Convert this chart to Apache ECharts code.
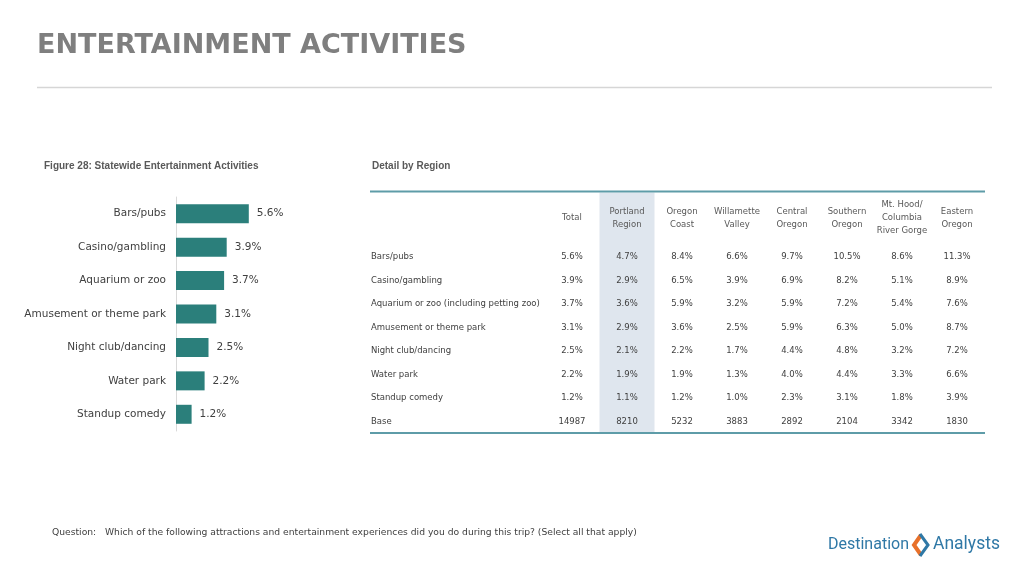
<!DOCTYPE html>
<html>
<head>
<meta charset="utf-8">
<script src="https://cdn.jsdelivr.net/npm/echarts@6/dist/echarts.min.js"></script>
<style>
html,body{margin:0;padding:0;background:#fff;}
#chart{width:1024px;height:576px;}
</style>
</head>
<body>
<div id="chart"></div>
<script>
// ---- Data ----
const titleText = 'ENTERTAINMENT ACTIVITIES';
const figureTitle = 'Figure 28: Statewide Entertainment Activities';
const detailTitle = 'Detail by Region';
const questionLabel = 'Question:';
const questionText = 'Which of the following attractions and entertainment experiences did you do during this trip? (Select all that apply)';

const barCategories = ['Bars/pubs', 'Casino/gambling', 'Aquarium or zoo', 'Amusement or theme park', 'Night club/dancing', 'Water park', 'Standup comedy'];
const barValues = [5.6, 3.9, 3.7, 3.1, 2.5, 2.2, 1.2];

const tableRows = ['Bars/pubs', 'Casino/gambling', 'Aquarium or zoo (including petting zoo)', 'Amusement or theme park', 'Night club/dancing', 'Water park', 'Standup comedy', 'Base'];
const regionHeaders = ['Total', 'Portland\nRegion', 'Oregon\nCoast', 'Willamette\nValley', 'Central\nOregon', 'Southern\nOregon', 'Mt. Hood/\nColumbia\nRiver Gorge', 'Eastern\nOregon'];

const totalCol      = [5.6, 3.9, 3.7, 3.1, 2.5, 2.2, 1.2];
const portlandCol   = [4.7, 2.9, 3.6, 2.9, 2.1, 1.9, 1.1];
const oregonCoastCol= [8.4, 6.5, 5.9, 3.6, 2.2, 1.9, 1.2];
const willametteCol = [6.6, 3.9, 3.2, 2.5, 1.7, 1.3, 1.0];
const centralCol    = [9.7, 6.9, 5.9, 5.9, 4.4, 4.0, 2.3];
const southernCol   = [10.5, 8.2, 7.2, 6.3, 4.8, 4.4, 3.1];
const mtHoodCol     = [8.6, 5.1, 5.4, 5.0, 3.2, 3.3, 1.8];
const easternCol    = [11.3, 8.9, 7.6, 8.7, 7.2, 6.6, 3.9];
const baseCounts    = [14987, 8210, 5232, 3883, 2892, 2104, 3342, 1830];

const highlightColumn = 1; // Portland Region

// ---- Build table cells ----
const columns = [totalCol, portlandCol, oregonCoastCol, willametteCol, centralCol, southernCol, mtHoodCol, easternCol];
const cellData = [];
const cellText = [];
columns.forEach((col, c) => {
  col.forEach((v, r) => { cellData.push([c, r]); cellText.push(v.toFixed(1) + '%'); });
  cellData.push([c, col.length]); cellText.push(String(baseCounts[c]));
});

const FONT = 'DejaVu Sans';
const TXT = '#404040';

const chart = echarts.init(document.getElementById('chart'), null, {renderer: 'canvas'});
chart.setOption({
  backgroundColor: '#ffffff',
  animation: false,
  graphic: [
    {type: 'text', left: 37, top: 32, style: {text: titleText, fill: '#7f7f7f', font: 'bold 27px "DejaVu Sans"'}},
    {type: 'line', shape: {x1: 37, y1: 87.5, x2: 992, y2: 87.5}, style: {stroke: '#d6d6d6', lineWidth: 1.5}},
    {type: 'text', x: 44, y: 166, style: {text: figureTitle, fill: '#595959', font: 'bold 10px "Liberation Sans"', verticalAlign: 'middle'}},
    {type: 'text', x: 372, y: 166, style: {text: detailTitle, fill: '#595959', font: 'bold 10px "Liberation Sans"', verticalAlign: 'middle'}},
    {type: 'line', shape: {x1: 370, y1: 191.5, x2: 985, y2: 191.5}, style: {stroke: '#5e9ca8', lineWidth: 2}, z: 5},
    {type: 'line', shape: {x1: 370, y1: 433, x2: 985, y2: 433}, style: {stroke: '#5e9ca8', lineWidth: 2}, z: 5},
    {type: 'text', x: 52, y: 533, style: {text: questionLabel, fill: TXT, font: '9.2px "DejaVu Sans"', verticalAlign: 'middle'}},
    {type: 'text', x: 105, y: 533, style: {text: questionText, fill: TXT, font: '9.2px "DejaVu Sans"', verticalAlign: 'middle'}},
    {type: 'text', x: 828, y: 545, style: {text: 'Destination', fill: '#2f78a6', font: '16px Roboto', verticalAlign: 'middle'}},
    {type: 'text', x: 933, y: 545, style: {text: 'Analysts', fill: '#2f78a6', font: '17.5px Roboto', verticalAlign: 'middle'}},
    {type: 'polyline', shape: {points: [[921, 535], [914, 545], [921, 555]]}, style: {stroke: '#e8702a', lineWidth: 4, fill: null}},
    {type: 'polyline', shape: {points: [[920, 534], [928, 545], [920, 556]]}, style: {stroke: '#2f78a6', lineWidth: 3, fill: null}}
  ],
  grid: [
    {left: 176, top: 197, width: 130, height: 234},
    {left: 544.5, top: 245, width: 440, height: 188.5}
  ],
  xAxis: [
    {gridIndex: 0, type: 'value', min: 0, max: 10, show: false},
    {gridIndex: 1, type: 'category', position: 'top', data: regionHeaders, z: 6,
     axisLine: {show: false}, axisTick: {show: false}, splitLine: {show: false},
     axisLabel: {interval: 0, verticalAlign: 'middle', margin: 27, lineHeight: 13, fontSize: 8.5, fontFamily: FONT, color: '#595959'}}
  ],
  yAxis: [
    {gridIndex: 0, type: 'category', inverse: true, data: barCategories,
     axisLine: {show: true, lineStyle: {color: '#d9d9d9', width: 1}}, axisTick: {show: false},
     axisLabel: {margin: 10, fontSize: 10.5, fontFamily: FONT, color: TXT}},
    {gridIndex: 1, type: 'category', inverse: true, data: tableRows,
     axisLine: {show: false}, axisTick: {show: false},
     axisLabel: {align: 'left', margin: 173.5, fontSize: 8.5, fontFamily: FONT, color: TXT}}
  ],
  series: [
    {type: 'bar', xAxisIndex: 0, yAxisIndex: 0, data: barValues, barWidth: 19,
     itemStyle: {color: '#2b7f7b'},
     label: {show: true, position: 'right', distance: 8, fontSize: 10.5, fontFamily: FONT, color: TXT,
             formatter: p => p.value.toFixed(1) + '%'}},
    {type: 'custom', xAxisIndex: 1, yAxisIndex: 1, z: 1, data: [[highlightColumn, 0]],
     renderItem: (params, api) => {
       const first = api.coord([highlightColumn, 0]);
       const last = api.coord([highlightColumn, tableRows.length - 1]);
       const size = api.size([1, 1]);
       const top = 192.5;
       return {type: 'rect', shape: {x: first[0] - size[0] / 2, y: top, width: size[0], height: last[1] + size[1] / 2 - top},
               style: {fill: '#dfe6ee'}};
     }},
    {type: 'custom', xAxisIndex: 1, yAxisIndex: 1, z: 3, data: cellData,
     renderItem: (params, api) => {
       const p = api.coord([api.value(0), api.value(1)]);
       return {type: 'text', x: p[0], y: p[1],
               style: {text: cellText[params.dataIndex], align: 'center', verticalAlign: 'middle', fill: TXT, fontSize: 8.5, fontFamily: FONT}};
     }}
  ]
});
</script>
</body>
</html>
